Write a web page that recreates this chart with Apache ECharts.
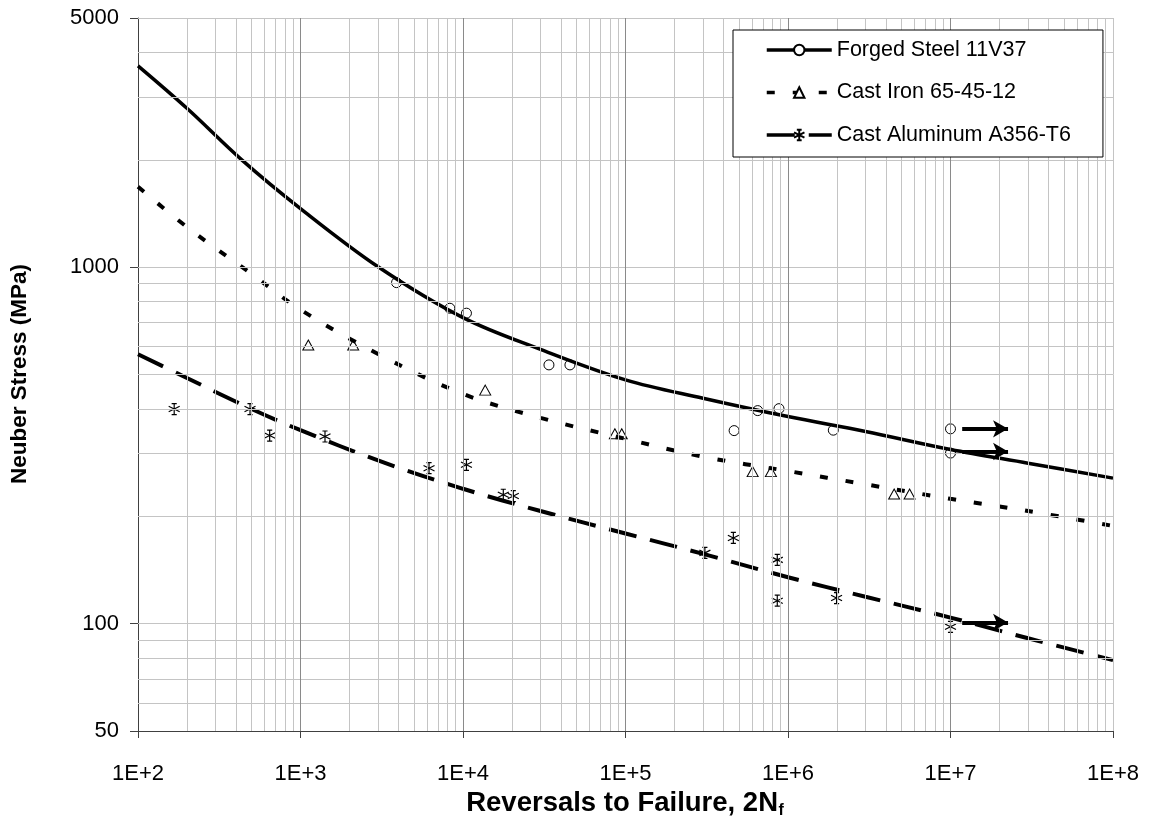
<!DOCTYPE html>
<html><head><meta charset="utf-8">
<script src="https://cdn.jsdelivr.net/npm/echarts@6/dist/echarts.min.js"></script>
<style>html,body{margin:0;padding:0;background:#fff}#c{width:1153px;height:834px}</style>
</head><body><div id="c"></div>
<script>
// ---- data ----
const xTicks = [1e2, 1e3, 1e4, 1e5, 1e6, 1e7, 1e8];
const yTicks = [50, 100, 1000, 5000];
const minorMult = [2, 3, 4, 5, 6, 7, 8, 9];
const seriesNames = ['Forged Steel 11V37', 'Cast Iron 65-45-12', 'Cast Aluminum A356-T6'];

// fitted curves [2Nf, stress MPa]
const steelCurve = [[100,3670],[200,2790],[435,2000],[1000,1460],[3000,1003],[1e4,722],[3e4,588],[1e5,483],[3e5,429],[1e6,381],[3e6,346],[1e7,308],[3e7,282],[1e8,256]];
const ironCurve  = [[100,1682],[200,1296],[500,957],[1000,760],[3000,571],[1e4,441],[3e4,378],[1e5,330],[3e5,294],[1e6,268],[3e6,246],[1e7,224],[3e7,207],[1e8,188]];
const aluCurve   = [[100,570],[200,489],[500,400],[1000,349],[3000,287],[1e4,239],[3e4,207],[1e5,179],[3e5,157],[1e6,135],[3e6,119],[1e7,104],[3e7,91],[1e8,79]];

// test points [2Nf, stress MPa]
const steelPts = [[3900,905],[8300,767],[10500,743],[33800,532],[45500,532],[466000,348],[651000,396],[880000,401],[1.9e6,349],[1e7,352],[1e7,301]];
const ironPts  = [[1117,605],[2110,605],[13700,452],[86000,341],[94800,341],[606000,267],[785000,267],[4.5e6,231],[5.6e6,231]];
const aluPts   = [[167,400],[489,400],[646,337],[1415,335],[6180,273],[10500,279],[17700,230],[20400,228],[308000,158],[461000,174],[859000,151],[859000,116],[1.99e6,118],[1e7,98]];

// run-out arrows [from 2Nf, to 2Nf, stress]
const steelRunouts = [[1.18e7, 2.26e7, 352], [1.18e7, 2.26e7, 304]];
const aluRunouts   = [[1.18e7, 2.26e7, 100.8]];

// ---- chart ----
const FONT = '"Liberation Sans", Arial, sans-serif';
const ASTER = 'path://M5,0L5,10M0.7,2.5L9.3,7.5M9.3,2.5L0.7,7.5M3,0L7,0M3,10L7,10';
const LIGHT = '#c4c4c4', DARK = '#8a8a8a';

const vMajor = xTicks.slice(1, -1);
const vMinor = [];
for (let k = 0; k < xTicks.length - 1; k++) for (const m of minorMult) vMinor.push(xTicks[k] * m);
vMinor.push(xTicks[xTicks.length - 1]);
const hLines = [];
for (const d of [10, 100, 1000]) for (let m = 1; m <= 9; m++) { const v = d * m; if (v > yTicks[0] && v <= yTicks[yTicks.length - 1]) hLines.push(v); }

const gridData = [
  ...vMinor.map(v => ({ xAxis: v, lineStyle: { color: LIGHT } })),
  ...hLines.map(v => ({ yAxis: v, lineStyle: { color: LIGHT } })),
  ...vMajor.map(v => ({ xAxis: v, lineStyle: { color: DARK } }))
];

const arrowLine = runs => ({
  silent: true, animation: false,
  symbol: ['none', 'arrow'], symbolSize: [13, 15],
  lineStyle: { color: '#000', width: 4, type: 'solid', opacity: 1 },
  label: { show: false },
  data: runs.map(r => [{ coord: [r[0], r[2]] }, { coord: [r[1], r[2]] }])
});

const chart = echarts.init(document.getElementById('c'), null, { renderer: 'canvas' });
chart.setOption({
  animation: false,
  backgroundColor: '#fff',
  grid: { left: 138, right: 40, top: 18, bottom: 103, containLabel: false },
  xAxis: {
    type: 'log', logBase: 10, min: xTicks[0], max: xTicks[xTicks.length - 1],
    splitLine: { show: false },
    axisLine: { show: true, lineStyle: { color: '#404040', width: 1 } },
    axisTick: { show: true, length: 7, lineStyle: { color: '#404040' } },
    axisLabel: { margin: 32, fontFamily: FONT, fontSize: 22, color: '#000',
      formatter: v => '1E+' + Math.round(Math.log10(v)) }
  },
  yAxis: {
    type: 'log', logBase: 10, min: yTicks[0], max: yTicks[yTicks.length - 1],
    splitLine: { show: false },
    axisLine: { show: true, lineStyle: { color: '#404040', width: 1 } },
    axisTick: { show: true, length: 8, lineStyle: { color: '#404040' } },
    axisLabel: { margin: 19, fontFamily: FONT, fontSize: 22, color: '#000',
      formatter: v => String(Math.round(v)) }
  },
  legend: {
    data: seriesNames, orient: 'vertical', left: 733, top: 30, z: 50, zlevel: 1,
    padding: [9, 32, 11, 32], itemGap: 20.5, itemWidth: 65, itemHeight: 13,
    backgroundColor: '#fff', borderColor: '#000', borderWidth: 1, borderRadius: 0,
    selectedMode: false,
    lineStyle: { width: 3.5 },
    textStyle: { fontFamily: FONT, fontSize: 21.5, color: '#000', lineHeight: 22 }
  },
  graphic: [
    { type: 'text', x: 20, y: 374, rotation: Math.PI / 2, silent: true,
      style: { text: 'Neuber Stress (MPa)', font: 'bold 22.5px ' + FONT, fill: '#000', textAlign: 'center', textVerticalAlign: 'middle' } },
    { type: 'text', x: 778, y: 803, silent: true,
      style: { text: 'Reversals to Failure, 2N', font: 'bold 27.5px ' + FONT, fill: '#000', textAlign: 'right', textVerticalAlign: 'middle' } },
    { type: 'text', x: 778.5, y: 811, silent: true,
      style: { text: 'f', font: 'bold 16px ' + FONT, fill: '#000', textAlign: 'left', textVerticalAlign: 'middle' } }
  ],
  series: [
    { name: 'grid', type: 'line', data: [], z: 1, silent: true,
      markLine: { silent: true, animation: false, symbol: ['none', 'none'], label: { show: false },
        lineStyle: { width: 1, type: 'solid' }, data: gridData } },
    { name: 'steelPts', type: 'scatter', data: steelPts, z: 3, silent: true,
      symbol: 'circle', symbolSize: 10,
      itemStyle: { color: 'rgba(255,255,255,0)', borderColor: '#000', borderWidth: 1, opacity: 1 },
      markLine: arrowLine(steelRunouts) },
    { name: 'ironPts', type: 'scatter', data: ironPts, z: 3, silent: true,
      symbol: 'triangle', symbolSize: [11, 10],
      itemStyle: { color: 'rgba(255,255,255,0)', borderColor: '#000', borderWidth: 1, opacity: 1 } },
    { name: 'aluPts', type: 'scatter', data: aluPts, z: 3, silent: true,
      symbol: ASTER, symbolSize: 11,
      itemStyle: { color: 'rgba(0,0,0,0)', borderColor: '#000', borderWidth: 1.2, opacity: 1 },
      markLine: arrowLine(aluRunouts) },
    { name: seriesNames[0], type: 'line', data: steelCurve, smooth: 0.35, z: 4, silent: true,
      symbol: 'emptyCircle', symbolSize: 10, showSymbol: false,
      lineStyle: { color: '#000', width: 3.5 }, itemStyle: { color: '#000' } },
    { name: seriesNames[1], type: 'line', data: ironCurve, smooth: 0.35, z: 4, silent: true,
      symbol: 'emptyTriangle', symbolSize: 10, showSymbol: false,
      lineStyle: { color: '#000', width: 4, type: [8, 18], cap: 'butt' }, itemStyle: { color: '#000' } },
    { name: seriesNames[2], type: 'line', data: aluCurve, smooth: 0.35, z: 4, silent: true,
      symbol: ASTER, symbolSize: 10, showSymbol: false,
      lineStyle: { color: '#000', width: 4, type: [28, 14], cap: 'butt' },
      itemStyle: { color: '#000', borderColor: '#000', borderWidth: 1.2 } }
  ]
});
</script>
</body></html>
